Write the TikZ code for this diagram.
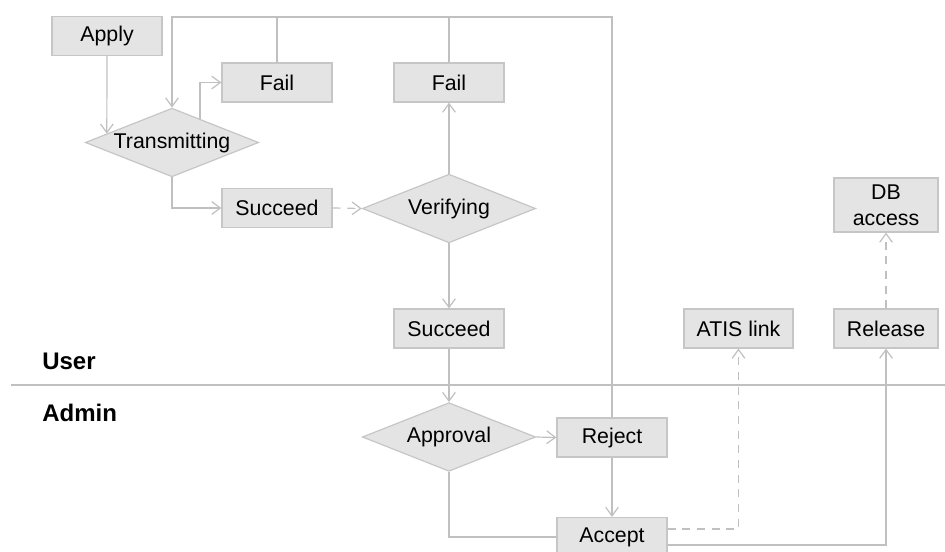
\documentclass[tikz,border=0pt]{standalone}
\usepackage{fontspec}
\setmainfont{Liberation Sans}
\usetikzlibrary{shapes.geometric,arrows.meta,calc}
\definecolor{boxfill}{HTML}{E4E4E4}
\definecolor{boxline}{HTML}{C6C6C6}
\definecolor{wire}{HTML}{C0C0C0}
\begin{document}
\begin{tikzpicture}[x=0.75pt,y=-0.75pt,
  every node/.style={font=\fontsize{16}{19.5}\selectfont},
  stepbox/.style={draw=boxline,fill=boxfill,line width=0.9pt,rectangle,
    inner sep=0pt,minimum width=82.5pt,minimum height=29.25pt,align=center},
  choice/.style={draw=boxline,fill=boxfill,line width=0.9pt,diamond,aspect=2.5,
    inner sep=0pt,minimum width=130pt,minimum height=51.5pt},
  wireline/.style={draw=wire,line width=0.9pt},
  arr/.style={wireline,-{Straight Barb[length=6.5pt,width=9.5pt,line width=0.9pt]}},
  dashline/.style={dash pattern=on 6pt off 5pt},
  lane/.style={font=\fontsize{18}{21}\selectfont\bfseries,anchor=west,inner sep=0pt}]
\useasboundingbox (0,0) rectangle (945,552);

% lane separator and lane titles
\coordinate (sepL) at (11,385);
\coordinate (sepR) at (945,385);
\draw[wireline] (sepL) -- (sepR);
\node[lane] (user) at (42,361) {User};
\node[lane] (admin) at (42,413) {Admin};

% user lane
\node[stepbox] (apply) at (107,36) {Apply};
\node[choice] (trans) at (172,142.5) {Transmitting};
\node[stepbox] (fail1) at (277,82.5) {Fail};
\node[stepbox] (succ1) at (277,208) {Succeed};
\node[choice] (verif) at (449,208.5) {Verifying};
\node[stepbox] (fail2) at (449,82.5) {Fail};
\node[stepbox] (succ2) at (449,328.5) {Succeed};
\node[stepbox,minimum width=81.75pt] (atis) at (738.5,328.5) {ATIS link};
\node[stepbox,minimum width=78pt] (release) at (886,328.5) {Release};
\node[stepbox,minimum width=78pt,minimum height=40.5pt] (db) at (886,205) {DB\\access};

% admin lane
\node[choice] (approval) at (449,437) {Approval};
\node[stepbox] (reject) at (612,437.5) {Reject};
\node[stepbox] (accept) at (612,537) {Accept};

% retry loop along the top edge
\coordinate (loop) at (172,17);
\draw[arr] (reject.north) -- (reject.north |- loop) -- (loop) -- (trans.north);
\draw[wireline] (fail1.north) -- (fail1.north |- loop);
\draw[wireline] (fail2.north) -- (fail2.north |- loop);

% flow
\draw[arr] (apply.south) -- ($(trans.west)!0.253!(trans.north)$);
\draw[arr] ($(trans.north)!0.32!(trans.east)$) |- (fail1.west);
\draw[arr] (trans.south) |- (succ1.west);
\draw[arr,dashline] (succ1.east) -- (verif.west);
\draw[arr] (verif.north) -- (fail2.south);
\draw[arr] (verif.south) -- (succ2.north);
\draw[arr] (succ2.south) -- (approval.north);
\draw[arr] (approval.east) -- (reject.west);
\draw[arr] (reject.south) -- (accept.north);
\draw[wireline] (approval.south) |- (accept.west);
\draw[arr,dashline] ($(accept.east)+(0,-8)$) -| (atis.south);
\draw[arr] ($(accept.east)+(0,8)$) -| (release.south);
\draw[arr,dashline] (release.north) -- (db.south);
\end{tikzpicture}
\end{document}
